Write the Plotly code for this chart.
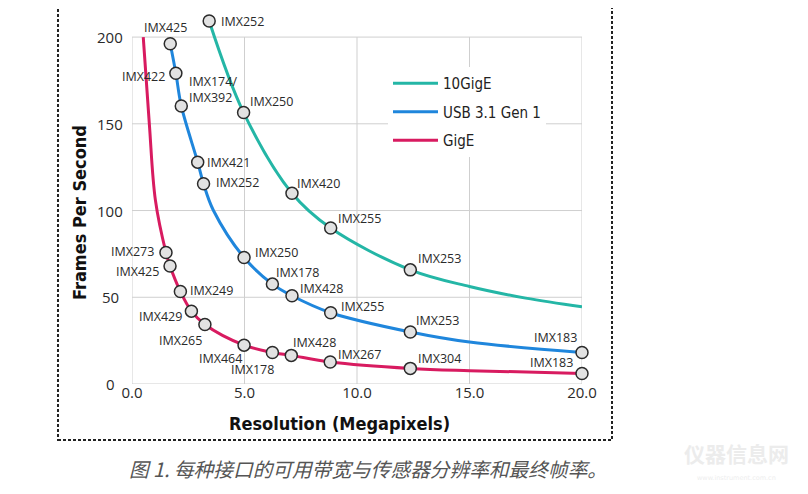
import plotly.graph_objects as go

# ---------------- data ----------------
series_names = ["10GigE", "USB 3.1 Gen 1", "GigE"]

# 10GigE
tengige_curve_x = [3.43, 4.96, 7.11, 8.83, 12.37, 15.0, 17.5, 20.0]
tengige_curve_y = [209.3, 156.5, 110.0, 89.9, 65.8, 56.2, 49.5, 44.5]
tengige_sensor_x = [3.43, 4.96, 7.11, 8.83, 12.37]
tengige_sensor_y = [209.3, 156.5, 110.0, 89.9, 65.8]
tengige_sensor_labels = ["IMX252", "IMX250", "IMX420", "IMX255", "IMX253"]

# USB 3.1 Gen 1
usb_curve_x = [1.70, 1.95, 2.19, 2.92, 3.18, 3.62, 4.98, 6.24, 7.11, 8.83, 12.37, 15.0, 20.0]
usb_curve_y = [196.2, 179.1, 160.3, 127.9, 115.4, 100.0, 72.9, 57.6, 50.9, 41.1, 30.0, 24.2, 18.2]
usb_sensor_x = [1.70, 1.95, 2.19, 2.92, 3.18, 4.98, 6.24, 7.11, 8.83, 12.37, 20.0]
usb_sensor_y = [196.2, 179.1, 160.3, 127.9, 115.4, 72.9, 57.6, 50.9, 41.1, 30.0, 18.2]
usb_sensor_labels = ["IMX425", "IMX422", "IMX174/<br>IMX392", "IMX421", "IMX252", "IMX250",
                     "IMX178", "IMX428", "IMX255", "IMX253", "IMX183"]

# GigE
gige_curve_x = [0.50, 0.77, 1.04, 1.51, 1.69, 2.15, 2.64, 3.24, 4.98, 6.24, 7.08, 8.81, 12.37, 15.0, 20.0]
gige_curve_y = [200.0, 150.0, 106.0, 75.8, 68.0, 53.3, 42.0, 34.3, 22.4, 18.2, 16.5, 12.7, 9.0, 7.7, 6.1]
gige_sensor_x = [1.51, 1.69, 2.15, 2.64, 3.24, 4.98, 6.24, 7.08, 8.81, 12.37, 20.0]
gige_sensor_y = [75.8, 68.0, 53.3, 42.0, 34.3, 22.4, 18.2, 16.5, 12.7, 9.0, 6.1]
gige_sensor_labels = ["IMX273", "IMX425", "IMX249", "IMX429", "IMX265", "IMX464",
                      "IMX178", "IMX428", "IMX267", "IMX304", "IMX183"]

x_tick_values = [0, 5, 10, 15, 20]
x_tick_labels = ["0.0", "5.0", "10.0", "15.0", "20.0"]
y_tick_values = [0, 50, 100, 150, 200]
y_tick_labels = ["0", "50", "100", "150", "200"]

x_title = "Resolution (Megapixels)"
y_title = "Frames Per Second"
caption = "图 1. 每种接口的可用带宽与传感器分辨率和最终帧率。"
watermark = "仪器信息网"
watermark_sub = "www.instrument.com.cn"

# ---------------- style ----------------
colors = ["#24b6a6", "#1f86dc", "#d81b60"]
label_font = dict(family="Open Sans, Noto Sans, sans-serif", size=12.5, color="#2a2a2a")
tick_font = dict(family="Open Sans, sans-serif", size=15, color="#2a2a2a")
cond_font = "DejaVu Sans Condensed, Roboto Condensed, Roboto, sans-serif"

# label placement (xanchor, xshift px, yshift px) for each sensor label
tengige_place = [("left", 11, -1), ("left", 5, 11), ("left", 4, 10), ("left", 6, 10), ("left", 7, 11)]
usb_place = [("center", -5, 16), ("right", -10, -3), ("left", 7, 16), ("left", 8, 0), ("left", 11, 1),
             ("left", 10, 5), ("left", 3, 12), ("left", 7, 7), ("left", 9, 6), ("left", 5, 11),
             ("center", -27, 15)]
gige_place = [("right", -11, 1), ("right", -10, -5), ("left", 9, 1), ("right", -8, -5),
              ("center", -24, -16), ("center", -24, -13), ("center", -20, -17), ("center", 23, 13),
              ("left", 7, 7), ("left", 7, 10), ("center", -31, 11)]

# the page places the figure 8px from the window's top-left corner
OFF = 8
W, H = 800, 486
L, R, T, B = 124, 226, 10, 110
Y_MAX = 211

fig = go.Figure()

curves = [(tengige_curve_x, tengige_curve_y), (usb_curve_x, usb_curve_y), (gige_curve_x, gige_curve_y)]
sensors = [(tengige_sensor_x, tengige_sensor_y, tengige_sensor_labels, tengige_place),
           (usb_sensor_x, usb_sensor_y, usb_sensor_labels, usb_place),
           (gige_sensor_x, gige_sensor_y, gige_sensor_labels, gige_place)]

for i, name in enumerate(series_names):
    cx, cy = curves[i]
    fig.add_trace(go.Scatter(
        x=cx, y=cy, mode="lines", name=name, legendgroup=name,
        line=dict(color=colors[i], width=3, shape="spline", smoothing=1.0),
        hoverinfo="skip",
    ))

for i, name in enumerate(series_names):
    sx, sy, _, _ = sensors[i]
    fig.add_trace(go.Scatter(
        x=sx, y=sy, mode="markers", name=name, legendgroup=name, showlegend=False,
        marker=dict(size=12, color="#e2e2e2", line=dict(color="#2b2b2b", width=1.5)),
        cliponaxis=False,
    ))


def px_to_paper_x(px):
    return (px - OFF - L) / (W - L - R)


def px_to_paper_y(py):
    return (H - B - (py - OFF)) / (H - T - B)


annotations = []
for sx, sy, labels, places in sensors:
    for x, y, lab, (anchor, dx, dy) in zip(sx, sy, labels, places):
        annotations.append(dict(
            x=x, y=y, xref="x", yref="y", text=lab, showarrow=False,
            xanchor=anchor, yanchor="middle", xshift=dx, yshift=dy,
            align="left", font=label_font, borderpad=0,
        ))

# y tick labels (centred in the reference)
for yv, yt in zip(y_tick_values, y_tick_labels):
    annotations.append(dict(
        x=px_to_paper_x(110), y=yv, xref="paper", yref="y", text=yt, showarrow=False,
        xanchor="center", yanchor="middle", font=tick_font,
    ))

# axis titles
annotations.append(dict(
    x=px_to_paper_x(339.5), y=px_to_paper_y(423), xref="paper", yref="paper",
    text=x_title, showarrow=False, xanchor="center", yanchor="middle",
    font=dict(family=cond_font, size=18, color="#111", weight="bold"),
))
annotations.append(dict(
    x=px_to_paper_x(79), y=px_to_paper_y(213), xref="paper", yref="paper",
    text=y_title, showarrow=False, xanchor="center", yanchor="middle", textangle=-90,
    font=dict(family=cond_font, size=18, color="#111", weight="bold"),
))
# caption
annotations.append(dict(
    x=px_to_paper_x(367.5), y=px_to_paper_y(468), xref="paper", yref="paper",
    text=caption, showarrow=False, xanchor="center", yanchor="middle",
    font=dict(family="Noto Sans CJK SC", size=19.7, color="#555", style="italic"),
))
# watermark
annotations.append(dict(
    x=px_to_paper_x(736), y=px_to_paper_y(453), xref="paper", yref="paper",
    text=watermark, showarrow=False, xanchor="center", yanchor="middle",
    font=dict(family="Noto Sans CJK SC", size=21, color="#ececec", weight="bold"),
))
annotations.append(dict(
    x=px_to_paper_x(736), y=px_to_paper_y(478), xref="paper", yref="paper",
    text=watermark_sub, showarrow=False, xanchor="center", yanchor="middle",
    font=dict(family="DejaVu Sans", size=6.5, color="#eeeeee"),
))

shapes = []
grid_color = "#cfcfcf"
for yv in y_tick_values:
    shapes.append(dict(type="line", xref="x", yref="y", x0=x_tick_values[0], x1=x_tick_values[-1],
                       y0=yv, y1=yv, line=dict(color=grid_color, width=1), layer="below"))
for xv in x_tick_values:
    shapes.append(dict(type="line", xref="x", yref="y", x0=xv, x1=xv,
                       y0=y_tick_values[0], y1=y_tick_values[-1],
                       line=dict(color=grid_color, width=1), layer="below"))
# dotted frame
shapes.append(dict(type="rect", xref="paper", yref="paper",
                   x0=px_to_paper_x(58), x1=px_to_paper_x(612),
                   y0=px_to_paper_y(440), y1=px_to_paper_y(6),
                   line=dict(color="#222", width=2, dash="3px,2px"), fillcolor="rgba(0,0,0,0)",
                   layer="below"))

fig.update_layout(
    width=W, height=H,
    margin=dict(l=L, r=R, t=T, b=B),
    paper_bgcolor="white", plot_bgcolor="white",
    showlegend=True,
    legend=dict(
        x=px_to_paper_x(388), y=px_to_paper_y(67), xanchor="left", yanchor="top",
        bgcolor="white", borderwidth=0,
        font=dict(family=cond_font, size=15, color="#222"),
        itemwidth=45, tracegroupgap=6, traceorder="grouped",
    ),
    xaxis=dict(range=[0, 20], tickvals=x_tick_values, ticktext=x_tick_labels,
               showgrid=False, zeroline=False, showline=False, ticks="",
               ticklabelstandoff=-2, tickfont=tick_font),
    yaxis=dict(range=[0, Y_MAX], tickvals=y_tick_values, showticklabels=False,
               showgrid=False, zeroline=False, showline=False, ticks=""),
    annotations=annotations,
    shapes=shapes,
    hovermode=False,
)

fig.write_html("out.html")
